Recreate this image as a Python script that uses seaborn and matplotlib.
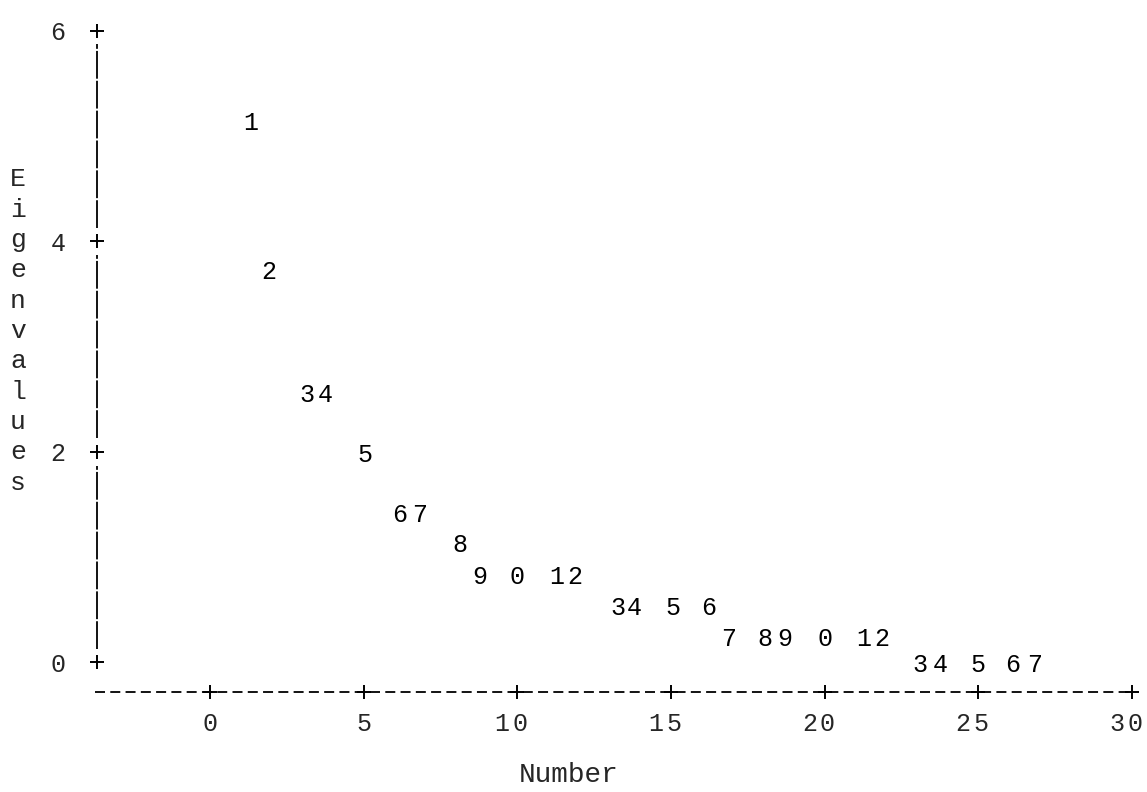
import matplotlib
matplotlib.use("Agg")
import matplotlib.pyplot as plt
import seaborn as sns

# scree plot read off an old line-printer listing
# each component is printed as the last digit of its number
numbers = list(range(1, 28))
x_pos = [1.33, 1.92, 3.16, 3.74, 5.04, 6.18, 6.83, 8.14, 8.79, 9.99, 11.29, 11.88,
         13.28, 13.80, 15.07, 16.24, 16.89, 18.06, 18.71, 20.01, 21.28, 21.87,
         23.10, 23.76, 24.99, 26.13, 26.85]
eigenvalues = [5.15, 3.73, 2.56, 2.56, 1.99, 1.42, 1.42, 1.14, 0.84, 0.84, 0.84, 0.84,
               0.54, 0.54, 0.54, 0.54, 0.25, 0.25, 0.25, 0.25, 0.25, 0.25,
               0.0, 0.0, 0.0, 0.0, 0.0]

x_ticks = [0, 5, 10, 15, 20, 25, 30]
y_ticks = [0, 2, 4, 6]

sns.set_theme(style="white")
plt.rcParams['font.family'] = ['Liberation Mono', 'DejaVu Sans Mono']
plt.rcParams['lines.scale_dashes'] = False

fig = plt.figure(figsize=(11.47, 7.92), dpi=100)
ax = fig.add_axes([0.0786, 0.1104, 0.9189, 0.8774])
ax.set_xlim(-3.9, 30.4)
ax.set_ylim(-0.4, 6.2)
ax.axis('off')

fs = 18
x_axis_y = -0.282   # the dashed row under the "0 +" line
y_axis_x = -3.68

# plotting symbols
for n, x, y in zip(numbers, x_pos, eigenvalues):
    ax.text(x, y, str(n % 10), ha='center', va='center_baseline', fontsize=fs, color='black')

# horizontal axis: dashes with + at the ticks
ax.plot([y_axis_x - 0.05, 30], [x_axis_y, x_axis_y], color='black', lw=1.3,
        linestyle=(0, (7.2, 3.8)))
sns.scatterplot(x=x_ticks, y=[x_axis_y] * len(x_ticks), marker='+', s=100,
                color='black', linewidth=1.4, ax=ax, zorder=3)
for t in x_ticks:
    lab = str(t)
    shift = -0.2 if len(lab) > 1 else 0.0   # printer puts 2-digit labels a bit left
    for k, ch in enumerate(lab):
        ax.text(t + shift + (k - (len(lab) - 1) / 2) * 0.58, -0.56, ch, ha='center',
                va='center_baseline', fontsize=fs)

# vertical axis: bars between the + marks
ax.vlines([y_axis_x] * 3, [0.13, 2.13, 4.13], [1.87, 3.87, 5.87], color='black',
          lw=1.3, linestyle=(0, (20, 1.5)))
sns.scatterplot(x=[y_axis_x] * len(y_ticks), y=y_ticks, marker='+', s=100,
                color='black', linewidth=1.4, ax=ax, zorder=3)
for t in y_ticks:
    ax.text(-4.95, t, str(t), ha='center', va='center_baseline', fontsize=fs)

# axis titles
fig.text(569 / 1147, 1 - 775 / 792, 'Number', ha='center', va='center', fontsize=20)
for k, ch in enumerate('Eigenvalues'):
    fig.text(18 / 1147, 1 - (177 + k * 30.3) / 792, ch, ha='center',
             va='center_baseline', fontsize=19)

fig.savefig('out.png', dpi=100)
